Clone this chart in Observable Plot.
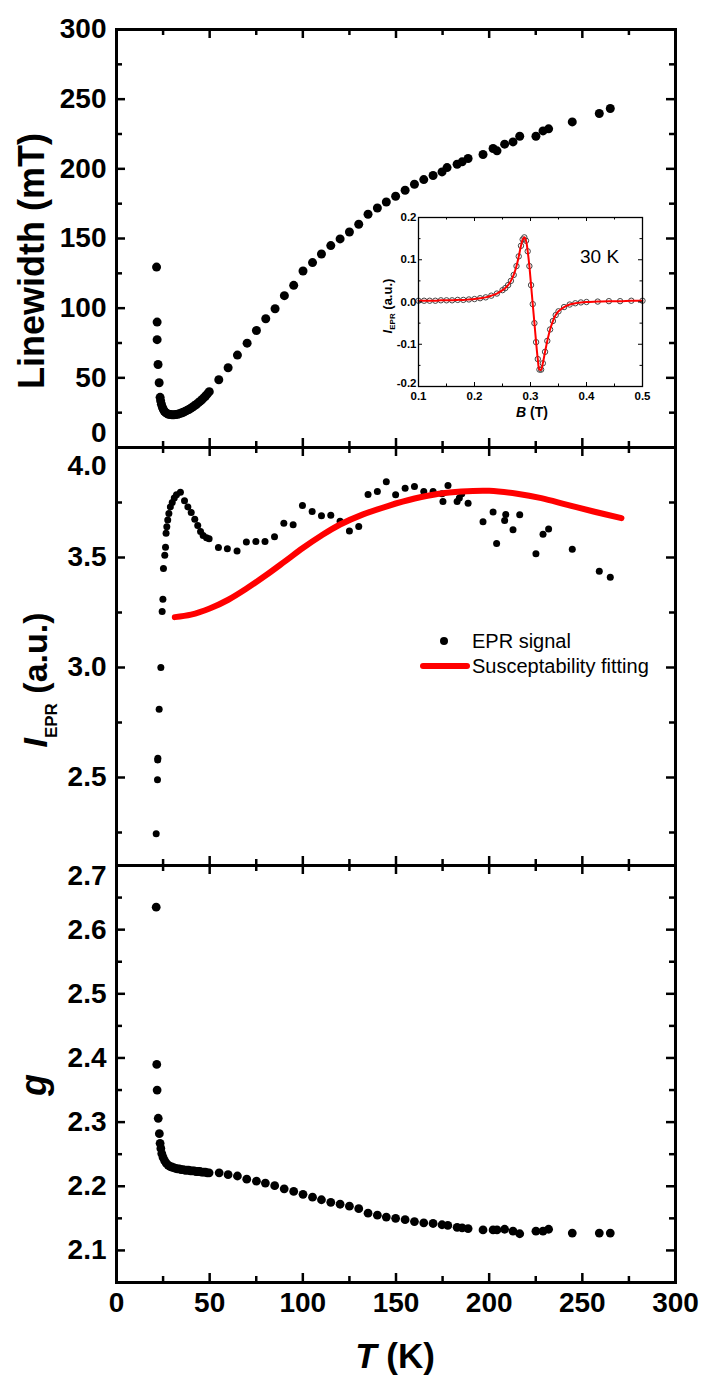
<!DOCTYPE html>
<html><head><meta charset="utf-8">
<script src="https://cdn.jsdelivr.net/npm/d3@7"></script>
<script src="https://cdn.jsdelivr.net/npm/@observablehq/plot@0.6"></script>
<style>
body{margin:0;background:#fff;}
#wrap{position:relative;width:701px;height:1376px;overflow:hidden;font-family:"Liberation Sans",Arial,sans-serif;}
#wrap svg{position:absolute;}
</style></head><body><div id="wrap"></div>
<script>
// ---------- data ----------
const xMajor = [0, 50, 100, 150, 200, 250, 300];
const xMinor = [25, 75, 125, 175, 225, 275];

// Panel 1: linewidth (mT) vs T (K)
const linewidthT = [21.5,21.8,21.8,22.3,22.9,23.4,23.7,24.1,24.6,25.1,25.7,26.4,27.2,28.0,28.9,29.8,30.8,31.8,32.8,33.8,34.8,35.8,36.8,37.8,38.8,39.8,40.8,41.8,42.8,43.8,44.8,45.8,46.8,47.8,48.8,49.8,54.9,59.9,64.9,70.1,75.1,80.1,85.1,90.1,95.1,100.1,105.2,110,115,120,125,130,135,140,144.8,149.8,154.9,159.9,164.9,169.9,174.7,177.4,182.8,185.5,188.7,196.7,202.1,204.2,208.3,212.8,216.4,225.1,228.9,231.9,244.6,259.1,265];
const linewidthMT = [129.5,90,77.4,59.6,46.5,36.0,33.5,31.0,29.0,27.4,26.0,25.0,24.3,23.9,23.6,23.5,23.5,23.6,23.9,24.3,24.8,25.3,25.9,26.6,27.3,28.1,29.0,29.9,30.9,32.0,33.1,34.3,35.6,37.0,38.5,40.1,48.6,57.2,66.3,74.9,84,92.4,99.6,109,116.4,126.7,132.7,138.9,144.9,149.7,154.7,160.2,167.4,171.9,176.2,180.3,184.6,188.9,192.3,195.2,197.8,200.9,203.3,205,207.4,210.3,214.6,212.9,217.7,219.3,223.4,223.4,227.2,228.7,233.7,239.7,243.3];
const linewidthTicksMajor = [0, 50, 100, 150, 200, 250, 300];
const linewidthTicksMinor = [25, 75, 125, 175, 225, 275];

// Panel 2: EPR intensity vs T
const intensityT = [21.3,22.0,22.1,22.2,22.9,23.8,24.5,24.9,25.2,25.9,26.3,26.6,27.0,27.5,28.1,28.9,29.9,31.0,32.2,34.3,36.5,38.3,40.1,42.0,43.6,45.1,46.5,48.3,49.7,54.7,59.5,64.7,69.7,74.8,79.7,84.8,89.8,94.8,99.8,105,110,115,120,125,130,135,140,144.8,149.8,154.9,159.9,164.9,169.9,174.7,175.2,177.9,182.8,184.0,185.3,188.7,196.7,202.1,204.0,208.3,208.9,212.8,216.4,225.1,228.9,231.9,244.6,259.1,265];
const intensityAU = [2.244,2.49,2.58,2.588,2.81,3.0,3.255,3.31,3.45,3.51,3.547,3.61,3.64,3.67,3.70,3.73,3.75,3.77,3.785,3.797,3.758,3.73,3.705,3.674,3.645,3.618,3.60,3.59,3.585,3.545,3.54,3.53,3.57,3.573,3.573,3.594,3.656,3.649,3.736,3.709,3.69,3.692,3.665,3.621,3.641,3.786,3.80,3.844,3.785,3.815,3.823,3.80,3.80,3.79,3.755,3.827,3.755,3.77,3.79,3.747,3.662,3.707,3.564,3.668,3.695,3.626,3.694,3.517,3.606,3.63,3.538,3.438,3.41];
const fitT = [31.3,40,50,60,70,80,90,100,110,120,132,146,160,173,185,200,215,228,242,256,271];
const fitAU = [3.229,3.240,3.268,3.308,3.36,3.418,3.48,3.543,3.60,3.65,3.695,3.735,3.768,3.79,3.80,3.803,3.79,3.77,3.739,3.709,3.679];
const intensityTicksMajor = [2.5, 3.0, 3.5, 4.0];
const intensityTicksMinor = [2.25, 2.75, 3.25, 3.75];

// Panel 3: g factor vs T
const gT = [21.3,21.6,21.8,22.4,23.0,23.4,23.8,24.3,25.0,25.8,26.7,27.7,28.7,29.7,30.7,31.7,32.7,33.7,34.7,35.7,36.7,37.7,38.7,39.7,40.7,41.7,42.7,43.7,44.7,45.7,46.7,47.7,48.7,49.7,55.1,59.9,64.9,69.9,75.1,79.9,84.9,90,95.1,100.1,105.2,110,115,120,125,130,135,140,144.8,149.8,154.9,159.9,164.9,169.9,174.7,177.8,182.8,185.5,188.7,196.7,202.1,204.2,208.3,212.8,216.4,225.1,228.9,231.9,244.6,259.1,265];
const gValue = [2.635,2.39,2.35,2.306,2.282,2.267,2.259,2.251,2.245,2.240,2.236,2.233,2.231,2.230,2.229,2.228,2.227,2.227,2.226,2.226,2.225,2.225,2.225,2.224,2.224,2.224,2.223,2.223,2.223,2.222,2.222,2.222,2.221,2.221,2.221,2.218,2.216,2.211,2.208,2.205,2.201,2.196,2.192,2.1875,2.183,2.179,2.175,2.172,2.169,2.165,2.158,2.155,2.152,2.15,2.148,2.145,2.143,2.142,2.140,2.139,2.136,2.135,2.134,2.132,2.132,2.132,2.133,2.130,2.126,2.130,2.130,2.133,2.127,2.127,2.127];
const gTicksMajor = [2.1, 2.2, 2.3, 2.4, 2.5, 2.6, 2.7];
const gTicksMinor = [2.05, 2.15, 2.25, 2.35, 2.45, 2.55, 2.65];

// Inset: EPR spectrum at 30 K
const insetB = [0.100,0.110,0.120,0.130,0.140,0.150,0.160,0.170,0.180,0.190,0.200,0.210,0.220,0.230,0.240,0.250,0.255,0.260,0.265,0.270,0.275,0.279,0.283,0.286,0.289,0.292,0.295,0.298,0.301,0.304,0.307,0.310,0.313,0.316,0.319,0.322,0.326,0.330,0.335,0.340,0.345,0.350,0.360,0.370,0.380,0.390,0.400,0.420,0.440,0.460,0.480,0.500];
const insetI = [0.003,0.003,0.003,0.003,0.004,0.004,0.004,0.005,0.005,0.006,0.007,0.009,0.011,0.015,0.020,0.028,0.033,0.040,0.050,0.064,0.085,0.108,0.133,0.148,0.153,0.145,0.120,0.085,0.040,-0.005,-0.050,-0.095,-0.135,-0.160,-0.160,-0.145,-0.118,-0.092,-0.065,-0.045,-0.031,-0.022,-0.012,-0.006,-0.003,-0.001,0.000,0.001,0.002,0.002,0.003,0.003];
const insetXMajor = [0.1, 0.2, 0.3, 0.4, 0.5];
const insetXMinor = [0.15, 0.25, 0.35, 0.45];
const insetYMajor = [-0.2, -0.1, 0.0, 0.1, 0.2];
const insetYMinor = [-0.15, -0.05, 0.05, 0.15];

// ---------- build ----------
const wrap = document.getElementById("wrap");
const FONT = "Liberation Sans, Arial, sans-serif";
const ML = 116, MR = 26, WIDTH = 701, FW = WIDTH - ML - MR;
const TICKFS = 28;
const pts = (xs, ys) => xs.map((x, i) => ({x, y: ys[i]}));

function ticksFrame(fh, yMaj, yMin, xMaj, xMin, fw, big, small, sw) {
  return [
    Plot.tickY(yMaj, {y: d => d, insetRight: fw - big, strokeWidth: sw}),
    Plot.tickY(yMin, {y: d => d, insetRight: fw - small, strokeWidth: sw}),
    Plot.tickY(yMaj, {y: d => d, insetLeft: fw - big, strokeWidth: sw}),
    Plot.tickY(yMin, {y: d => d, insetLeft: fw - small, strokeWidth: sw}),
    Plot.tickX(xMaj, {x: d => d, insetBottom: fh - big, strokeWidth: sw}),
    Plot.tickX(xMin, {x: d => d, insetBottom: fh - small, strokeWidth: sw}),
    Plot.tickX(xMaj, {x: d => d, insetTop: fh - big, strokeWidth: sw}),
    Plot.tickX(xMin, {x: d => d, insetTop: fh - small, strokeWidth: sw})
  ];
}

function panel({top, height, marginTop, marginBottom, yDomain, yMaj, yMin, yLabels, fmt, edge, edgeDy, marks, xAxis}) {
  const fh = height - marginTop - marginBottom;
  const p = Plot.plot({
    width: WIDTH, height, marginLeft: ML, marginRight: MR, marginTop, marginBottom,
    style: {background: "transparent", overflow: "visible", fontFamily: FONT},
    x: {domain: [0, 300], axis: null, label: null},
    y: {domain: yDomain, axis: null, label: null},
    marks: [
      ...marks,
      ...ticksFrame(fh, yMaj, yMin, xMajor, xMinor, FW, 9, 6, 2.5),
      Plot.frame({stroke: "black", strokeWidth: 3}),
      Plot.axisY(yLabels, {anchor: "left", tickSize: 0, tickPadding: 10, fontSize: TICKFS, fontWeight: "bold", tickFormat: fmt, label: null}),
      Plot.text([edge], {y: d => d, text: d => fmt(d), frameAnchor: "left", textAnchor: "end", dx: -10, dy: edgeDy, fontSize: TICKFS, fontWeight: "bold"}),
      ...(xAxis ? [Plot.axisX(xMajor, {anchor: "bottom", tickSize: 0, tickPadding: 10, fontSize: TICKFS, fontWeight: "bold", label: null, tickFormat: d => String(d)})] : [])
    ]
  });
  p.style.left = "0px";
  p.style.top = top + "px";
  wrap.appendChild(p);
}

// Panel 1
panel({
  top: 0, height: 447, marginTop: 29, marginBottom: 0,
  yDomain: [0, 300], yMaj: linewidthTicksMajor, yMin: linewidthTicksMinor,
  yLabels: [50, 100, 150, 200, 250, 300], fmt: d => String(d), edge: 0, edgeDy: -14,
  marks: [Plot.dot(pts(linewidthT, linewidthMT), {x: "x", y: "y", r: 4.5, fill: "black"})]
});

// Panel 2
panel({
  top: 447, height: 418, marginTop: 0, marginBottom: 0,
  yDomain: [2.1, 4.0], yMaj: intensityTicksMajor, yMin: intensityTicksMinor,
  yLabels: [2.5, 3.0, 3.5], fmt: d => d.toFixed(1), edge: 4.0, edgeDy: 19,
  marks: [
    Plot.dot(pts(intensityT, intensityAU), {x: "x", y: "y", r: 3.5, fill: "black"}),
    Plot.line(pts(fitT, fitAU), {x: "x", y: "y", stroke: "#ff0000", strokeWidth: 6, curve: "catmull-rom", strokeLinecap: "round"})
  ]
});

// Panel 3
panel({
  top: 865, height: 511, marginTop: 0, marginBottom: 94,
  yDomain: [2.05, 2.7], yMaj: gTicksMajor, yMin: gTicksMinor,
  yLabels: [2.1, 2.2, 2.3, 2.4, 2.5, 2.6], fmt: d => d.toFixed(1), edge: 2.7, edgeDy: 11,
  marks: [Plot.dot(pts(gT, gValue), {x: "x", y: "y", r: 4.4, fill: "black"})],
  xAxis: true
});

// Inset
{
  const iml = 32, imr = 4, imt = 6, imb = 18, ifw = 224, ifh = 169;
  const fmt1 = d => d.toFixed(1);
  const inset = Plot.plot({
    width: ifw + iml + imr, height: ifh + imt + imb,
    marginLeft: iml, marginRight: imr, marginTop: imt, marginBottom: imb,
    style: {background: "transparent", overflow: "visible", fontFamily: FONT},
    x: {domain: [0.1, 0.5], axis: null, label: null},
    y: {domain: [-0.2, 0.2], axis: null, label: null},
    marks: [
      Plot.frame({fill: "white", stroke: null}),
      Plot.dot(pts(insetB, insetI), {x: "x", y: "y", r: 2.7, stroke: "#444", strokeWidth: 1, fill: "none"}),
      Plot.line(pts(insetB, insetI), {x: "x", y: "y", stroke: "#ff0000", strokeWidth: 2, curve: "catmull-rom"}),
      Plot.tickY(insetYMajor, {y: d => d, insetRight: ifw - 4, strokeWidth: 1}),
      Plot.tickY(insetYMinor, {y: d => d, insetRight: ifw - 2.5, strokeWidth: 1}),
      Plot.tickY(insetYMajor, {y: d => d, insetLeft: ifw - 4, strokeWidth: 1}),
      Plot.tickY(insetYMinor, {y: d => d, insetLeft: ifw - 2.5, strokeWidth: 1}),
      Plot.tickX(insetXMajor, {x: d => d, insetBottom: ifh - 4, strokeWidth: 1}),
      Plot.tickX(insetXMinor, {x: d => d, insetBottom: ifh - 2.5, strokeWidth: 1}),
      Plot.tickX(insetXMajor, {x: d => d, insetTop: ifh - 4, strokeWidth: 1}),
      Plot.tickX(insetXMinor, {x: d => d, insetTop: ifh - 2.5, strokeWidth: 1}),
      Plot.frame({stroke: "black", strokeWidth: 1.3}),
      Plot.axisY([-0.1, 0.0, 0.1, 0.2], {anchor: "left", tickSize: 0, tickPadding: 2, fontSize: 11.5, fontWeight: "bold", tickFormat: fmt1, label: null}),
      Plot.text([-0.2], {y: d => d, text: d => fmt1(d), frameAnchor: "left", textAnchor: "end", dx: -2, dy: -3, fontSize: 11.5, fontWeight: "bold"}),
      Plot.axisX(insetXMajor, {anchor: "bottom", tickSize: 0, tickPadding: 5, fontSize: 11.5, fontWeight: "bold", tickFormat: fmt1, label: null})
    ]
  });
  inset.style.left = (418 - iml) + "px";
  inset.style.top = (217 - imt) + "px";
  wrap.appendChild(inset);
}

// Titles and legend (text overlay)
const ns = "http://www.w3.org/2000/svg";
const ov = document.createElementNS(ns, "svg");
ov.setAttribute("width", 701); ov.setAttribute("height", 1376);
ov.style.left = "0px"; ov.style.top = "0px"; ov.style.overflow = "visible";
ov.innerHTML = `
<g font-family="${FONT}" fill="black">
  <text transform="translate(44,261) rotate(-90)" text-anchor="middle" font-size="36" font-weight="bold">Linewidth (mT)</text>
  <text transform="translate(47,680) rotate(-90)" text-anchor="middle" font-size="34" font-weight="bold"><tspan font-style="italic">I</tspan><tspan font-size="17" dy="10">EPR</tspan><tspan dy="-10"> (a.u.)</tspan></text>
  <text transform="translate(46,1085) rotate(-90)" text-anchor="middle" font-size="36" font-weight="bold" font-style="italic">g</text>
  <text x="395" y="1368" text-anchor="middle" font-size="35" font-weight="bold"><tspan font-style="italic">T</tspan> (K)</text>
  <circle cx="444" cy="641" r="4" fill="black"></circle>
  <text x="472" y="648" font-size="20">EPR signal</text>
  <line x1="423" x2="467" y1="666" y2="666" stroke="#ff0000" stroke-width="6" stroke-linecap="round"></line>
  <text x="472" y="673" font-size="20">Susceptability fitting</text>
  <text transform="translate(392,306) rotate(-90)" text-anchor="middle" font-size="13" font-weight="bold"><tspan font-style="italic">I</tspan><tspan font-size="8" dy="3">EPR</tspan><tspan dy="-3"> (a.u.)</tspan></text>
  <text x="532" y="417" text-anchor="middle" font-size="14" font-weight="bold"><tspan font-style="italic">B</tspan> (T)</text>
  <text x="580" y="263" font-size="19">30 K</text>
</g>`;
wrap.appendChild(ov);
</script>
</body></html>
